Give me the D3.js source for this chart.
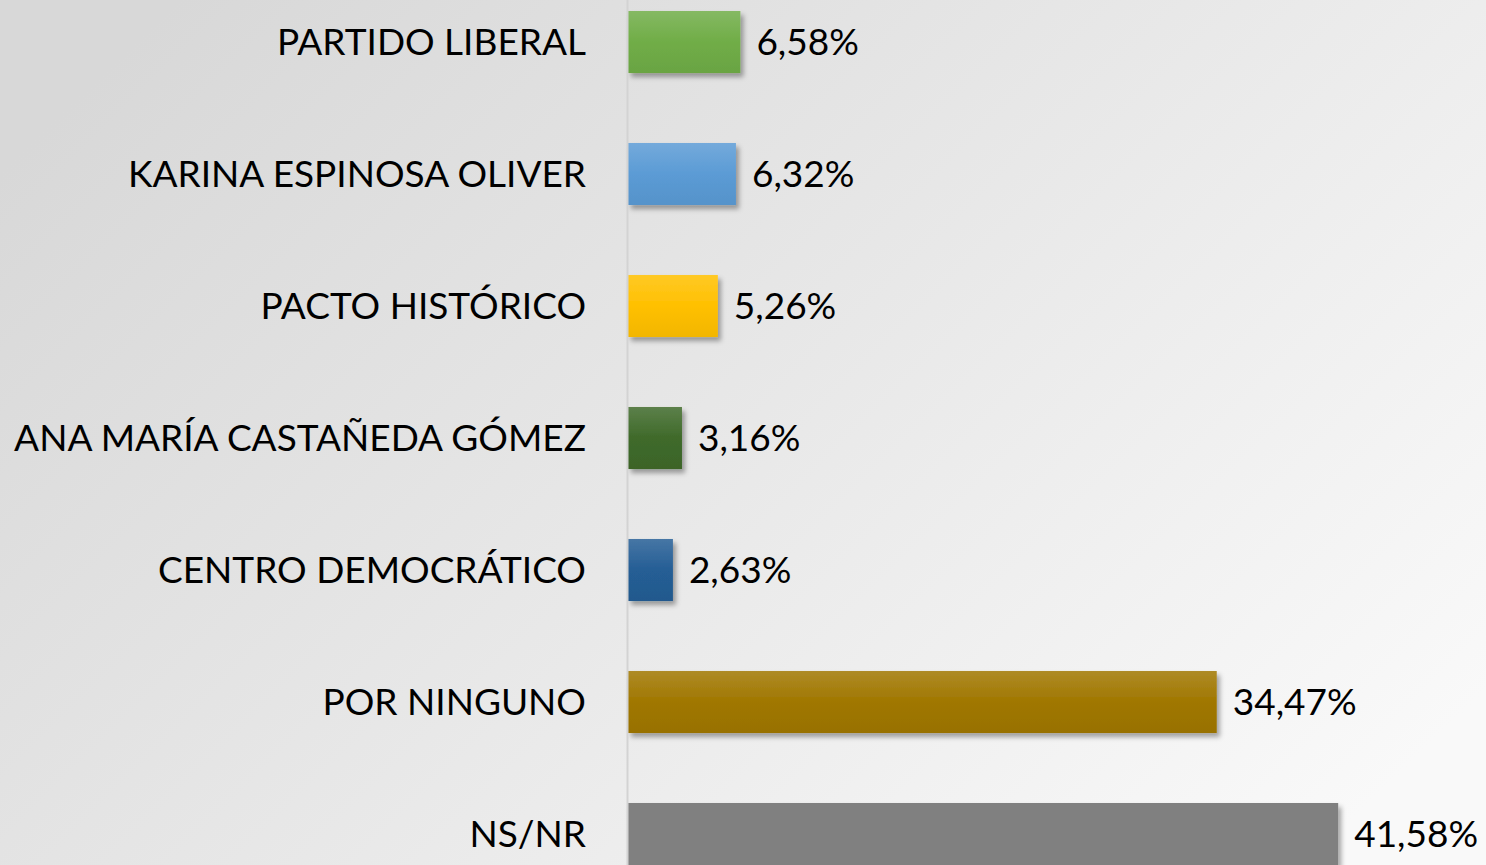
<!DOCTYPE html>
<html>
<head>
<meta charset="utf-8">
<script src="https://cdn.jsdelivr.net/npm/d3@7"></script>
<style>
  html, body { margin: 0; padding: 0; overflow: hidden; }
  svg { display: block; }
</style>
</head>
<body>
<div id="chart"></div>
<script>
// datos de la encuesta
var categories = ["PARTIDO LIBERAL", "KARINA ESPINOSA OLIVER", "PACTO HISTÓRICO",
  "ANA MARÍA CASTAÑEDA GÓMEZ", "CENTRO DEMOCRÁTICO", "POR NINGUNO", "NS/NR"];
var values = [6.58, 6.32, 5.26, 3.16, 2.63, 34.47, 41.58];
var labels = ["6,58%", "6,32%", "5,26%", "3,16%", "2,63%", "34,47%", "41,58%"];
var colors = ["#70ad47", "#5b9bd5", "#ffc000", "#3f6a2a", "#255e95", "#a07700", "#808080"];

var width = 1486, height = 865;
var svg = d3.select("#chart").append("svg")
  .attr("width", width).attr("height", height);

var defs = svg.append("defs");

// fondo
var bg = defs.append("linearGradient").attr("id", "bg")
  .attr("x1", "0").attr("y1", "0.2").attr("x2", "1").attr("y2", "0.8");
bg.append("stop").attr("offset", "0").attr("stop-color", "#d8d8d8");
bg.append("stop").attr("offset", "0.5").attr("stop-color", "#e8e8e8");
bg.append("stop").attr("offset", "1").attr("stop-color", "#f9f9f9");
svg.append("rect").attr("width", width).attr("height", height).attr("fill", "url(#bg)");

var shadow = defs.append("filter").attr("id", "shadow")
  .attr("x", "-10%").attr("y", "-20%").attr("width", "130%").attr("height", "160%");
shadow.append("feDropShadow").attr("dx", 3).attr("dy", 4).attr("stdDeviation", 2.5)
  .attr("flood-color", "#000").attr("flood-opacity", 0.35);

categories.forEach(function(c, i) {
  var base = d3.color(colors[i]);
  var g = defs.append("linearGradient").attr("id", "grad" + i)
    .attr("x1", 0).attr("y1", 0).attr("x2", 0).attr("y2", 1);
  if (i == categories.length - 1) {
    g.append("stop").attr("offset", 0).attr("stop-color", base);
    g.append("stop").attr("offset", 1).attr("stop-color", base);
  } else {
    g.append("stop").attr("offset", 0).attr("stop-color", d3.interpolateRgb(base, "#fff")(0.15));
    g.append("stop").attr("offset", 0.5).attr("stop-color", base);
    g.append("stop").attr("offset", 1).attr("stop-color", base.darker(0.15));
  }
});

var x = d3.scaleLinear().domain([0, 50]).range([628, 628 + 854]);
var y = d3.scaleBand().domain(categories).range([-24, 900])
  .paddingInner(0.53).paddingOuter(0.265);

svg.selectAll(".bar")
  .data(values)
  .enter().append("rect")
  .attr("class", "bar")
  .attr("x", x(0))
  .attr("y", function(d, i) { return y(categories[i]); })
  .attr("width", function(d) { return x(d) - x(0); })
  .attr("height", y.bandwidth())
  .attr("fill", function(d, i) { return "url(#grad" + i + ")"; })
  .attr("filter", "url(#shadow)");

var axis = svg.append("g")
  .attr("transform", "translate(627,0)")
  .call(d3.axisLeft(y).tickSize(0).tickPadding(41));
axis.select(".domain").attr("stroke", "#d3d3d3").attr("stroke-width", 2);
axis.selectAll("text")
  .attr("font-family", "Lato, sans-serif")
  .attr("font-size", 37)
  .attr("fill", "#000")
  .attr("dy", "0.35em");

svg.selectAll(".val")
  .data(values)
  .enter().append("text")
  .attr("class", "val")
  .attr("x", function(d) { return x(d) + 16; })
  .attr("y", function(d, i) { return y(categories[i]) + y.bandwidth() / 2; })
  .attr("dy", "0.35em")
  .attr("font-family", "Lato, sans-serif")
  .attr("font-size", 37)
  .attr("fill", "#000")
  .text(function(d, i) { return labels[i]; });
</script>
</body>
</html>
